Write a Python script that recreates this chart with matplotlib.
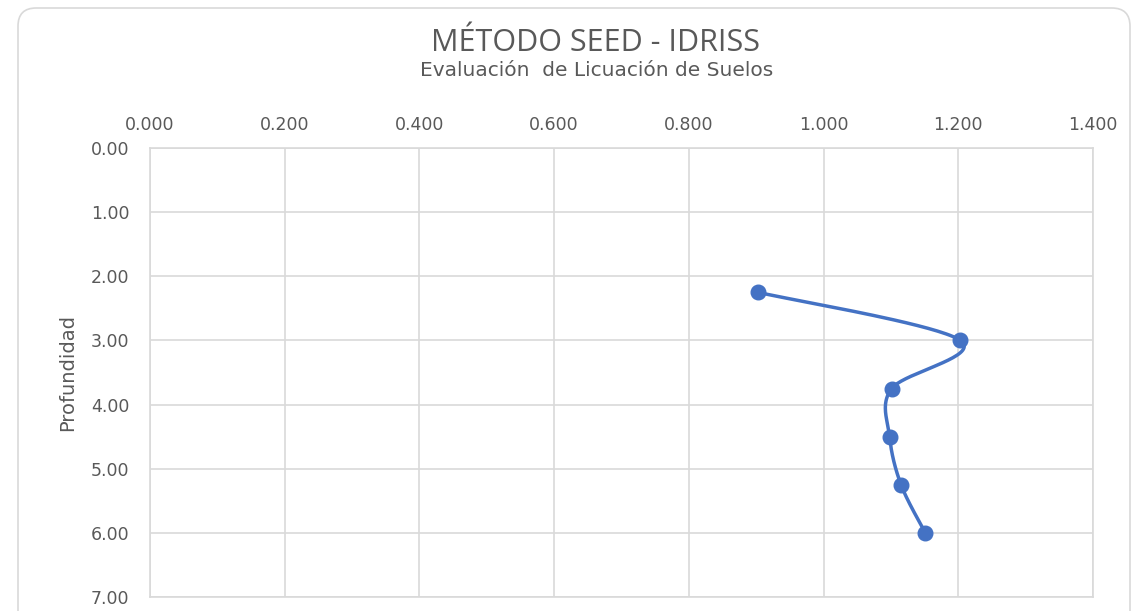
import numpy as np
import matplotlib.pyplot as plt
from matplotlib.patches import FancyBboxPatch

# data
factor_seguridad = [0.903, 1.203, 1.101, 1.098, 1.115, 1.151]
profundidad = [2.25, 3.00, 3.75, 4.50, 5.25, 6.00]
x_ticks = [0.0, 0.2, 0.4, 0.6, 0.8, 1.0, 1.2, 1.4]
y_ticks = [0.0, 1.0, 2.0, 3.0, 4.0, 5.0, 6.0, 7.0]

BLUE = '#4472C4'
GRID = '#d9d9d9'
TXT = '#595959'


def smooth_curve(x, y, sx, sy, n=40):
    """Excel-like smoothed line (Catmull-Rom bezier) computed in pixel space."""
    p = np.column_stack([np.asarray(x) * sx, np.asarray(y) * sy])
    pts = []
    for i in range(len(p) - 1):
        p0 = p[i - 1] if i > 0 else p[i]
        p1, p2 = p[i], p[i + 1]
        p3 = p[i + 2] if i + 2 < len(p) else p[i + 1]
        c1 = p1 + (p2 - p0) / 6.0
        c2 = p2 - (p3 - p1) / 6.0
        t = np.linspace(0, 1, n)[:, None]
        seg = ((1 - t) ** 3) * p1 + 3 * ((1 - t) ** 2) * t * c1 + 3 * (1 - t) * t ** 2 * c2 + t ** 3 * p2
        pts.append(seg if i == 0 else seg[1:])
    pts = np.vstack(pts)
    return pts[:, 0] / sx, pts[:, 1] / sy


fig = plt.figure(figsize=(11.36, 6.11), dpi=100)

# chart frame
frame = FancyBboxPatch((18 / 1136, -0.05), (1130 - 18) / 1136, 1 - 8 / 611 + 0.05,
                       boxstyle='round,pad=0,rounding_size=0.016',
                       transform=fig.transFigure, facecolor='white',
                       edgecolor=GRID, linewidth=1.2, mutation_aspect=1136 / 611,
                       zorder=-1)
fig.patches.append(frame)

ax = fig.add_axes([150 / 1136, 1 - 597 / 611, (1093 - 150) / 1136, (597 - 148) / 611])
ax.set_zorder(2)
ax.set_xlim(0, 1.4)
ax.set_ylim(7.0, 0.0)
ax.xaxis.tick_top()
ax.set_xticks(x_ticks)
ax.set_yticks(y_ticks)
ax.set_xticklabels([f'{v:.3f}' for v in x_ticks])
ax.set_yticklabels([f'{v:.2f}' for v in y_ticks])
ax.tick_params(length=0, labelsize=12.5, labelcolor=TXT)
ax.tick_params(axis='x', pad=10)
ax.tick_params(axis='y', pad=15)
for lbl in ax.get_xticklabels() + ax.get_yticklabels():
    lbl.set_family('DejaVu Sans')
ax.grid(True, color=GRID, linewidth=1.2)
for s in ax.spines.values():
    s.set_color(GRID)
    s.set_linewidth(1.2)
ax.set_axisbelow(True)

# smoothed line in pixel proportions of the axes
sx = 943 / 1.4
sy = 449 / 7.0
xs, ys = smooth_curve(factor_seguridad, profundidad, sx, sy)
ax.plot(xs, ys, color=BLUE, linewidth=2.5, solid_capstyle='round', zorder=3)
ax.plot(factor_seguridad, profundidad, 'o', color=BLUE, markersize=10.5, zorder=4)

ax.set_ylabel('Profundidad', fontsize=14, color=TXT, family='Liberation Sans Narrow', labelpad=10)

fig.text(595 / 1136, 1 - 43 / 611, 'MÉTODO SEED - IDRISS', ha='center', va='center',
         fontsize=22, color=TXT, family='Open Sans')
fig.text(597 / 1136, 1 - 71 / 611, 'Evaluación  de Licuación de Suelos', ha='center', va='center',
         fontsize=14.5, color=TXT, family='DejaVu Sans')

fig.savefig('out.png', dpi=100)
